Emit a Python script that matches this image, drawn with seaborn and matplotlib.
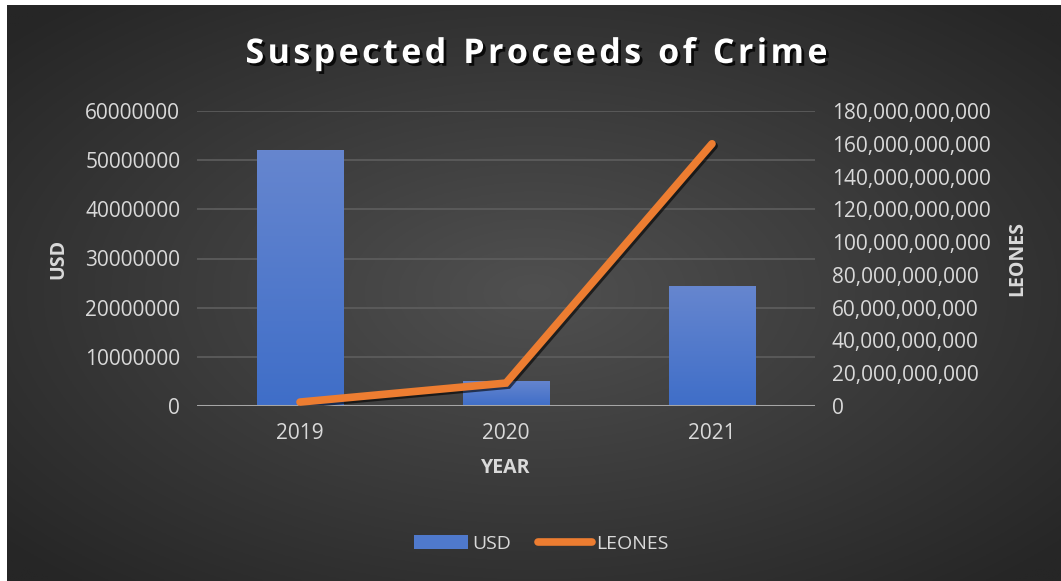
import matplotlib
matplotlib.use("Agg")
import matplotlib.pyplot as plt
import matplotlib.patheffects as pe
from matplotlib.lines import Line2D
from matplotlib.patches import Patch
from matplotlib.ticker import FuncFormatter, MultipleLocator
import numpy as np
import pandas as pd
import seaborn as sns

# ── Datos ─────────────────────────────────────────────────────────────────────
years = ["2019", "2020", "2021"]
usd = [52_000_000, 5_100_000, 24_400_000]
leones = [2_400_000_000, 14_000_000_000, 160_000_000_000]

df = pd.DataFrame({"year": years, "usd": usd, "leones": leones})

TEXT = "#d9d9d9"
BLUE = "#4f79cc"
ORANGE = "#ed7d31"

sns.set_theme(style="dark")
plt.rcParams["font.family"] = ["Open Sans", "DejaVu Sans"]

fig = plt.figure(figsize=(10.61, 5.81), dpi=100)
fig.patch.set_facecolor("white")

# ── Fondo con degradado radial ────────────────────────────────────────────────
bg = fig.add_axes([7 / 1061, 0, 1 - 7 / 1061, 1 - 5 / 581], zorder=-10)
yy, xx = np.mgrid[-1:1:300j, -1:1:550j]
r = np.clip(np.sqrt(xx ** 2 + yy ** 2) / 1.35, 0, 1)
c0, c1 = np.array([0x50, 0x50, 0x50]) / 255, np.array([0x26, 0x26, 0x26]) / 255
img = c0[None, None, :] * (1 - r[..., None]) + c1[None, None, :] * r[..., None]
bg.imshow(img, aspect="auto", extent=[0, 1, 0, 1])
bg.set_axis_off()

# ── Eje principal (USD, barras) ───────────────────────────────────────────────
ax = fig.add_axes([197 / 1061, 1 - 406 / 581, 618 / 1061, 295 / 581])
ax.set_facecolor("none")
sns.barplot(data=df, x="year", y="usd", color=BLUE, width=0.42,
            saturation=1, linewidth=0, edgecolor="none", ax=ax, zorder=2)

# degradado vertical en las barras
grad = np.linspace(0, 1, 256)[:, None]
top_c, bot_c = np.array([0x66, 0x86, 0xcf]) / 255, np.array([0x3f, 0x6e, 0xc8]) / 255
gimg = top_c[None, None, :] * (1 - grad[..., None]) + bot_c[None, None, :] * grad[..., None]
for bar in ax.patches:
    x0, y0 = bar.get_x(), bar.get_y()
    w, h = bar.get_width(), bar.get_height()
    im = ax.imshow(gimg, extent=[x0, x0 + w, y0, y0 + h], aspect="auto", zorder=2.5)
    im.set_clip_path(bar)
ax.set_xlim(-0.5, 2.5)
ax.set_ylim(0, 60_000_000)
ax.yaxis.set_major_locator(MultipleLocator(10_000_000))
ax.yaxis.set_major_formatter(FuncFormatter(lambda v, p: f"{v:.0f}"))
ax.grid(axis="y", color="#5e5e5e", linewidth=1.2, zorder=0)
ax.grid(axis="x", visible=False)
ax.axhline(0, color="#a6a6a6", linewidth=2.2, zorder=4)
for s in ax.spines.values():
    s.set_visible(False)
ax.tick_params(axis="both", colors=TEXT, labelsize=15, length=0, pad=12)
ax.set_xlabel("YEAR", color=TEXT, fontsize=14, fontweight="bold", labelpad=10)
ax.set_ylabel("USD", color=TEXT, fontsize=14, fontweight="bold", labelpad=12)

# ── Eje secundario (LEONES, línea) ────────────────────────────────────────────
ax2 = ax.twinx()
ax2.set_facecolor("none")
shadow = [pe.SimpleLineShadow(offset=(1.5, -1.5), shadow_color="black", alpha=0.6),
          pe.Normal()]
ax2.plot(range(len(years)), df["leones"], color=ORANGE, linewidth=5.5,
         solid_capstyle="round", solid_joinstyle="miter", path_effects=shadow, zorder=5)
ax2.set_ylim(0, 180_000_000_000)
ax2.yaxis.set_major_locator(MultipleLocator(20_000_000_000))
ax2.yaxis.set_major_formatter(FuncFormatter(lambda v, p: f"{v:,.0f}"))
ax2.grid(False)
for s in ax2.spines.values():
    s.set_visible(False)
ax2.tick_params(axis="y", colors=TEXT, labelsize=15, length=0, pad=12)
ax2.set_ylabel("LEONES", color=TEXT, fontsize=14, fontweight="bold", labelpad=12)

# ── Título (con espaciado entre letras) ───────────────────────────────────────
title = "\u2002".join("\u200a".join(w) for w in "Suspected Proceeds of Crime".split())
fig.text(0.505, 1 - 54 / 581, title, ha="center", va="center",
         color="white", fontsize=24.5, fontweight="bold",
         path_effects=[pe.withSimplePatchShadow(offset=(2, -2), shadow_rgbFace="black", alpha=0.8)])

# ── Leyenda ───────────────────────────────────────────────────────────────────
handles = [Patch(facecolor=BLUE, edgecolor="none", label="USD"),
           Line2D([0], [0], color=ORANGE, linewidth=5.5, solid_capstyle="round", label="LEONES")]
leg = fig.legend(handles=handles, loc="center", bbox_to_anchor=(0.51, 1 - 544 / 581),
                 ncol=2, frameon=False, fontsize=14, handlelength=2.8,
                 handletextpad=0.2, columnspacing=1.4)
for t in leg.get_texts():
    t.set_color(TEXT)

fig.savefig("out.png", dpi=100)
